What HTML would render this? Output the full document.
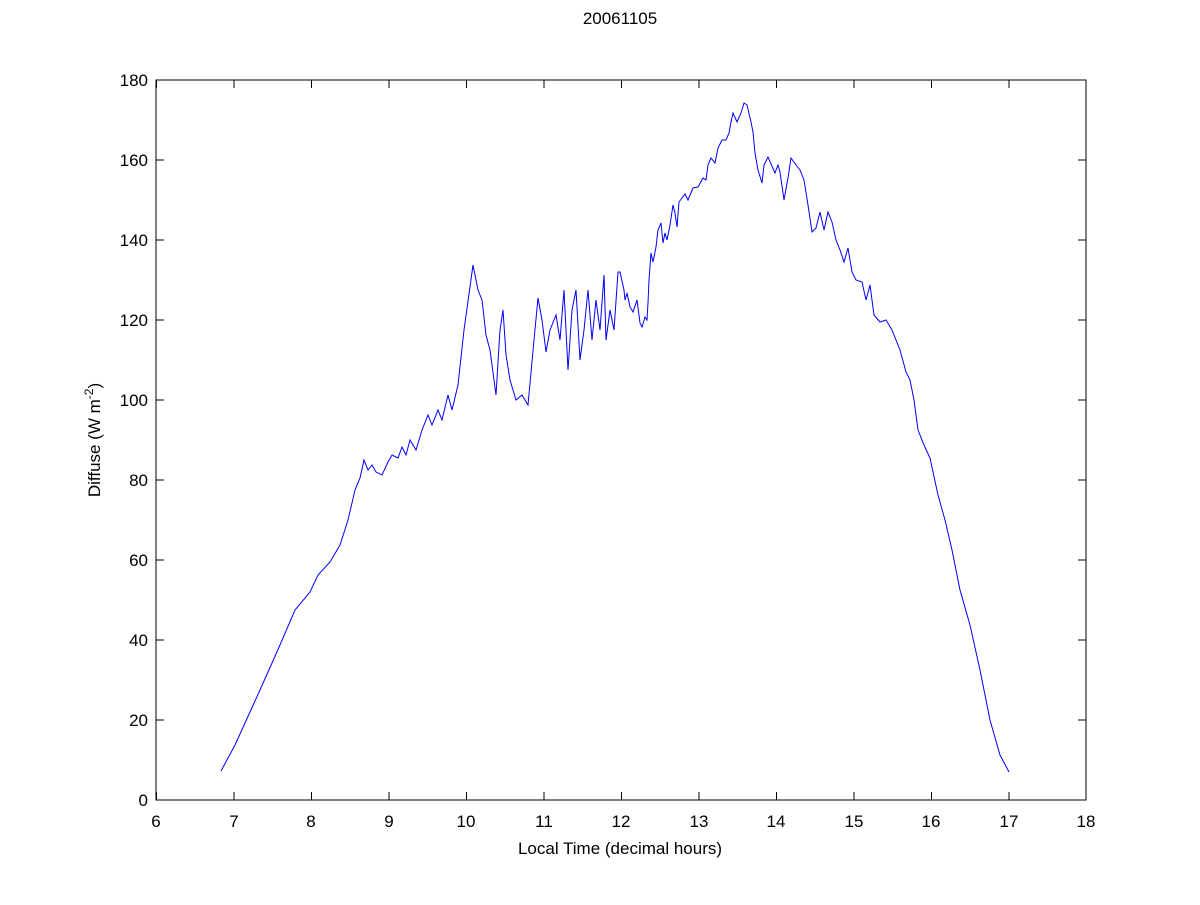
<!DOCTYPE html>
<html><head><style>body{margin:0;background:#fff}</style></head><body>
<svg width="1200" height="900" xmlns="http://www.w3.org/2000/svg" font-family="Liberation Sans, sans-serif" font-size="17">
<rect width="1200" height="900" fill="#fff"/>
<rect x="156" y="80" width="930" height="720" fill="#fff" stroke="#000" stroke-width="1"/>
<g stroke="#000" stroke-width="1">
<path d="M156.5 800v-8M156.5 80v8M234 800v-8M234 80v8M311.5 800v-8M311.5 80v8M389 800v-8M389 80v8M466.5 800v-8M466.5 80v8M544 800v-8M544 80v8M621.5 800v-8M621.5 80v8M699 800v-8M699 80v8M776.5 800v-8M776.5 80v8M854 800v-8M854 80v8M931.5 800v-8M931.5 80v8M1009 800v-8M1009 80v8M1086 800v-8M1086 80v8"/>
<path d="M156 800h8M1086 800h-8M156 720h8M1086 720h-8M156 640h8M1086 640h-8M156 560h8M1086 560h-8M156 480h8M1086 480h-8M156 400h8M1086 400h-8M156 320h8M1086 320h-8M156 240h8M1086 240h-8M156 160h8M1086 160h-8M156 80h8M1086 80h-8"/>
</g>
<g text-anchor="middle">
<text x="156" y="827">6</text><text x="234" y="827">7</text><text x="311" y="827">8</text><text x="389" y="827">9</text><text x="466" y="827">10</text><text x="544" y="827">11</text><text x="621" y="827">12</text><text x="699" y="827">13</text><text x="776" y="827">14</text><text x="854" y="827">15</text><text x="931" y="827">16</text><text x="1009" y="827">17</text><text x="1086" y="827">18</text>
<text x="620" y="854">Local Time (decimal hours)</text>
<text x="620" y="24">20061105</text>
</g>
<g text-anchor="end">
<text x="148" y="806">0</text><text x="148" y="726">20</text><text x="148" y="646">40</text><text x="148" y="566">60</text><text x="148" y="486">80</text><text x="148" y="406">100</text><text x="148" y="326">120</text><text x="148" y="246">140</text><text x="148" y="166">160</text><text x="148" y="86">180</text>
</g>
<text transform="translate(100,440) rotate(-90)" text-anchor="middle">Diffuse (W m<tspan dy="-7" font-size="12">-2</tspan><tspan dy="7">)</tspan></text>
<polyline fill="none" stroke="#0000ff" stroke-width="1" points="221,771 235,745 260,690 280,645 295,610 310,592 318,575 330,562 340,545 348,520 355,490 360,478 364,460 368,470 372,465 376,472 382,475 388,462 392,455 398,458 402,447 406,455 410,440 416,450 422,430 428,415 432,425 438,410 442,420 448,395 452,410 458,385 464,330 473,265 478,290 482,300 486,335 490,350 494,380 496,395 500,330 503,310 506,355 510,380 516,400 522,395 528,405 534,340 538,298 542,320 546,352 550,330 556,315 560,340 564,290 568,370 572,310 576,290 580,360 584,330 588,290 592,340 596,300 600,330 604,275 606,340 610,310 614,330 618,272 620,272 624,290 625,300 627,293 630,307 633,312 637,300 640,323 642,327 645,317 647,320 648,303 649,280 651,253 653,262 656,247 658,230 661,223 663,243 665,233 667,240 670,225 673,205 675,213 677,227 679,202 685,194 688,200 693,188 698,187 703,178 706,180 708,165 711,158 715,163 718,148 722,140 726,140 729,133 731,122 733,113 737,122 741,113 744,103 747,105 751,122 753,132 755,153 758,170 762,183 764,165 768,157 775,173 778,165 780,172 784,200 788,178 791,158 796,165 800,170 804,180 808,205 812,232 816,228 820,212 824,230 828,212 832,222 836,240 840,250 844,262 848,248 852,272 856,280 862,282 866,300 870,285 874,315 880,322 886,320 892,330 900,350 906,372 910,380 914,400 918,430 924,445 930,458 938,495 945,520 952,550 960,590 970,625 980,670 990,720 1000,755 1009,772"/>
</svg>
</body></html>
